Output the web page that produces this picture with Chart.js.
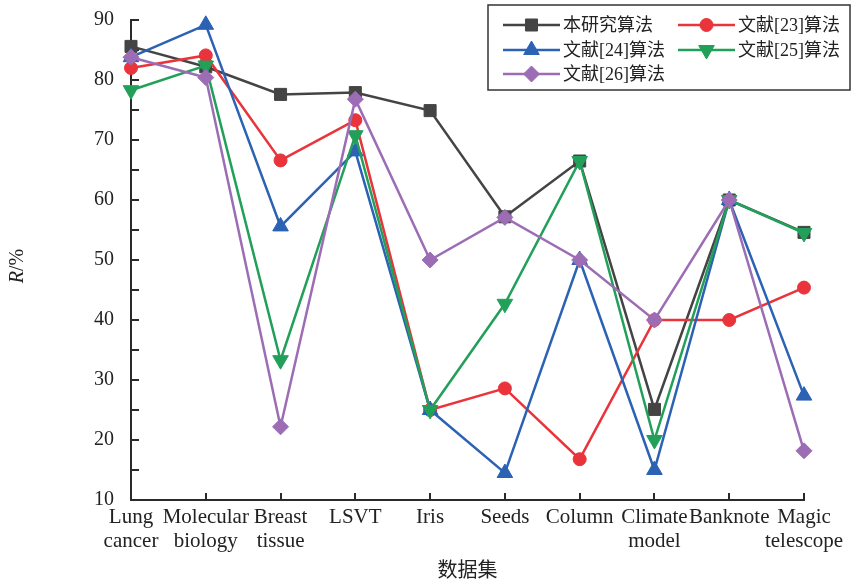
<!DOCTYPE html>
<html>
<head>
<meta charset="utf-8">
<script src="https://cdn.jsdelivr.net/npm/chart.js@4/dist/chart.umd.min.js"></script>
<style>
  body { margin: 0; background: #fff; }
</style>
</head>
<body>
<canvas id="rChart" width="856" height="584"></canvas>
<script>
const categories = [
    ["Lung", "cancer"], ["Molecular", "biology"], ["Breast", "tissue"], "LSVT", "Iris",
    "Seeds", "Column", ["Climate", "model"], "Banknote", ["Magic", "telescope"]
];
const seriesNames = ["本研究算法", "文献[23]算法", "文献[24]算法", "文献[25]算法", "文献[26]算法"];
const ours = [85.6, 82.2, 77.6, 77.9, 74.9, 57.2, 66.5, 25.1, 60, 54.6];
const ref23 = [82.0, 84.1, 66.6, 73.3, 25, 28.6, 16.8, 40, 40, 45.4];
const ref24 = [83.8, 89.2, 55.6, 68.1, 25, 14.5, 50, 15, 60, 27.4];
const ref25 = [78.3, 82.4, 33.3, 70.8, 25, 42.7, 66.5, 20, 60, 54.5];
const ref26 = [83.8, 80.4, 22.2, 76.8, 50, 57.1, 50, 40, 60, 18.2];
const yTicks = [10, 20, 30, 40, 50, 60, 70, 80, 90];

const serif = "'Liberation Serif', 'Noto Sans CJK SC', serif";
const axisColor = "#2a2a2a";

function makeSet(label, data, color, style, radius, rotation, order) {
    return {
        label: label,
        data: data,
        borderColor: color,
        backgroundColor: color,
        borderWidth: 2.5,
        pointStyle: style,
        pointRadius: radius,
        pointHoverRadius: radius,
        pointRotation: rotation,
        pointBackgroundColor: color,
        pointBorderColor: color,
        pointBorderWidth: 1,
        lineTension: 0,
        clip: false,
        order: order
    };
}

// inward tick marks on both axes
const innerTicks = {
    id: "innerTicks",
    beforeDatasetsDraw(chart) {
        const ctx = chart.ctx;
        const x = chart.scales.x, y = chart.scales.y;
        const area = chart.chartArea;
        ctx.save();
        ctx.strokeStyle = axisColor;
        ctx.lineWidth = 2;
        ctx.beginPath();
        y.ticks.forEach(function (t) {
            const py = Math.round(y.getPixelForValue(t.value));
            ctx.moveTo(area.left, py);
            ctx.lineTo(area.left + 8, py);
        });
        x.ticks.forEach(function (t, i) {
            const px = Math.round(x.getPixelForTick(i));
            ctx.moveTo(px, area.bottom);
            ctx.lineTo(px, area.bottom - 7);
        });
        ctx.stroke();
        ctx.restore();
    }
};

// y axis title with italic R
const yTitle = {
    id: "yTitle",
    afterDraw(chart) {
        const ctx = chart.ctx;
        const area = chart.chartArea;
        ctx.save();
        ctx.translate(18, (area.top + area.bottom) / 2 + 6);
        ctx.rotate(-Math.PI / 2);
        ctx.fillStyle = "#222";
        ctx.textBaseline = "middle";
        ctx.font = "italic 20px " + serif;
        const w1 = ctx.measureText("R").width;
        ctx.font = "20px " + serif;
        const w2 = ctx.measureText("/%").width;
        let sx = -(w1 + w2) / 2;
        ctx.font = "italic 20px " + serif;
        ctx.fillText("R", sx, 0);
        ctx.font = "20px " + serif;
        ctx.fillText("/%", sx + w1, 0);
        ctx.restore();
    }
};

// boxed two-column legend in the top right corner
const boxLegend = {
    id: "boxLegend",
    afterDraw(chart) {
        const ctx = chart.ctx;
        const box = { x: 488, y: 5, w: 362, h: 85 };
        ctx.save();
        ctx.fillStyle = "#fff";
        ctx.fillRect(box.x, box.y, box.w, box.h);
        ctx.strokeStyle = "#333";
        ctx.lineWidth = 1.5;
        ctx.strokeRect(box.x, box.y, box.w, box.h);
        const cols = [503, 678];
        const rows = [25, 50, 74];
        ctx.font = "18px " + serif;
        ctx.textBaseline = "middle";
        chart.data.datasets.forEach(function (ds, i) {
            const lx = cols[i % 2], ly = rows[Math.floor(i / 2)];
            ctx.strokeStyle = ds.borderColor;
            ctx.fillStyle = ds.borderColor;
            ctx.lineWidth = 2.5;
            ctx.beginPath();
            ctx.moveTo(lx, ly);
            ctx.lineTo(lx + 57, ly);
            ctx.stroke();
            ctx.lineWidth = 1;
            Chart.helpers.drawPoint(ctx, {
                pointStyle: ds.pointStyle,
                radius: ds.pointRadius,
                rotation: ds.pointRotation,
                borderWidth: 1
            }, lx + 28.5, ly);
            ctx.fillStyle = "#222";
            ctx.fillText(ds.label, lx + 60, ly + 1);
        });
        ctx.restore();
    }
};

const myChart = new Chart(document.getElementById("rChart"), {
    type: "line",
    data: {
        labels: categories,
        datasets: [
            makeSet(seriesNames[0], ours, "#444444", "rect", 8.5, 0, 5),
            makeSet(seriesNames[1], ref23, "#e8343a", "circle", 6.5, 0, 4),
            makeSet(seriesNames[2], ref24, "#2c62b4", "triangle", 9, 0, 3),
            makeSet(seriesNames[3], ref25, "#22a05a", "triangle", 9, 180, 2),
            makeSet(seriesNames[4], ref26, "#9c6db4", "rectRot", 8, 0, 1)
        ]
    },
    options: {
        responsive: false,
        animation: false,
        layout: { padding: { top: 20, right: 52, left: 0, bottom: 0 } },
        plugins: {
            legend: { display: false },
            tooltip: { enabled: false }
        },
        scales: {
            x: {
                type: "category",
                offset: false,
                grid: { display: true, drawOnChartArea: false, drawTicks: false, tickLength: 0 },
                border: { display: true, color: axisColor, width: 2 },
                ticks: {
                    color: "#222",
                    padding: 6,
                    maxRotation: 0,
                    autoSkip: false,
                    font: { family: serif, size: 21, lineHeight: 1.12 }
                },
                title: {
                    display: true,
                    text: "数据集",
                    color: "#222",
                    padding: { top: 11, bottom: 0 },
                    font: { family: serif, size: 20 }
                },
                afterFit: function (scale) {
                    scale.height = 84;
                    scale.paddingLeft = 0;
                    scale.paddingRight = 0;
                }
            },
            y: {
                min: 10,
                max: 90,
                grid: { display: true, drawOnChartArea: false, drawTicks: false, tickLength: 0 },
                border: { display: true, color: axisColor, width: 2 },
                ticks: {
                    stepSize: 5,
                    color: "#222",
                    padding: 17,
                    font: { family: serif, size: 20 },
                    callback: function (value) {
                        return yTicks.includes(value) ? value : "";
                    }
                },
                afterFit: function (scale) {
                    scale.width = 131;
                    scale.paddingTop = 0;
                    scale.paddingBottom = 0;
                }
            }
        }
    },
    plugins: [innerTicks, yTitle, boxLegend]
});
</script>
</body>
</html>
